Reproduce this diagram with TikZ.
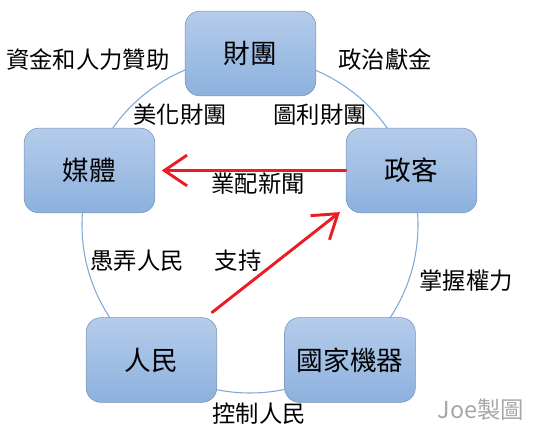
\documentclass[tikz,border=0pt]{standalone}
\usepackage{fontspec}
\newfontfamily\cjk{Noto Sans CJK TC}
\usetikzlibrary{arrows.meta}
\definecolor{boxtop}{HTML}{B5CCEA}
\definecolor{boxbot}{HTML}{8CB1DE}
\definecolor{boxline}{HTML}{7890B2}
\definecolor{ring}{HTML}{7EA9DA}
\definecolor{arrowred}{HTML}{EC1C24}
\begin{document}
\begin{tikzpicture}[x=0.75pt, y=-0.75pt, line join=round, line cap=round, >={Straight Barb[length=17pt,width=23pt]}]
\tikzset{every node/.style={font=\cjk},
  box/.style={rounded corners=11pt, draw=boxline, top color=boxtop, bottom color=boxbot,
    minimum width=98pt, minimum height=63.5pt, font=\cjk\fontsize{20}{24}\selectfont},
  lbl/.style={font=\cjk\fontsize{17.5}{21}\selectfont},
  redarrow/.style={->, draw=arrowred, line width=2.2pt}}
\useasboundingbox (0,0) rectangle (533,431);
\coordinate (o) at (250,225);
\draw[ring, line width=0.8pt] (o) circle (168);
% the five parties
\node[box] (ct) at (250.5,53.5) {財團};
\node[box] (mt) at (89.5,170.5) {媒體};
\node[box] (zk) at (411.5,170.5) {政客};
\node[box] (rm) at (151.5,360) {人民};
\node[box] (gj) at (350,360) {國家機器};
% labels on the ring
\node[lbl] (zj) at (88,60) {資金和人力贊助};
\node[lbl] (zz) at (385,60) {政治獻金};
\node[lbl] (mh) at (180,115) {美化財團};
\node[lbl] (tl) at (320,115) {圖利財團};
\node[lbl] (yp) at (258,184) {業配新聞};
\node[lbl] (yn) at (137,261) {愚弄人民};
\node[lbl] (zc) at (238,261) {支持};
\node[lbl] (zw) at (466,281) {掌握權力};
\node[lbl] (kz) at (259,414) {控制人民};
\node[lbl, text=black!35] (joe) at (481,410) {Joe製圖};
% red arrows
\draw[redarrow, shorten >=5pt] (zk.west) -- (mt.east);
\draw[redarrow] ([shift={(-5,-5)}]rm.north east) -- ([shift={(-6,-1)}]zk.south west);
\end{tikzpicture}
\end{document}
